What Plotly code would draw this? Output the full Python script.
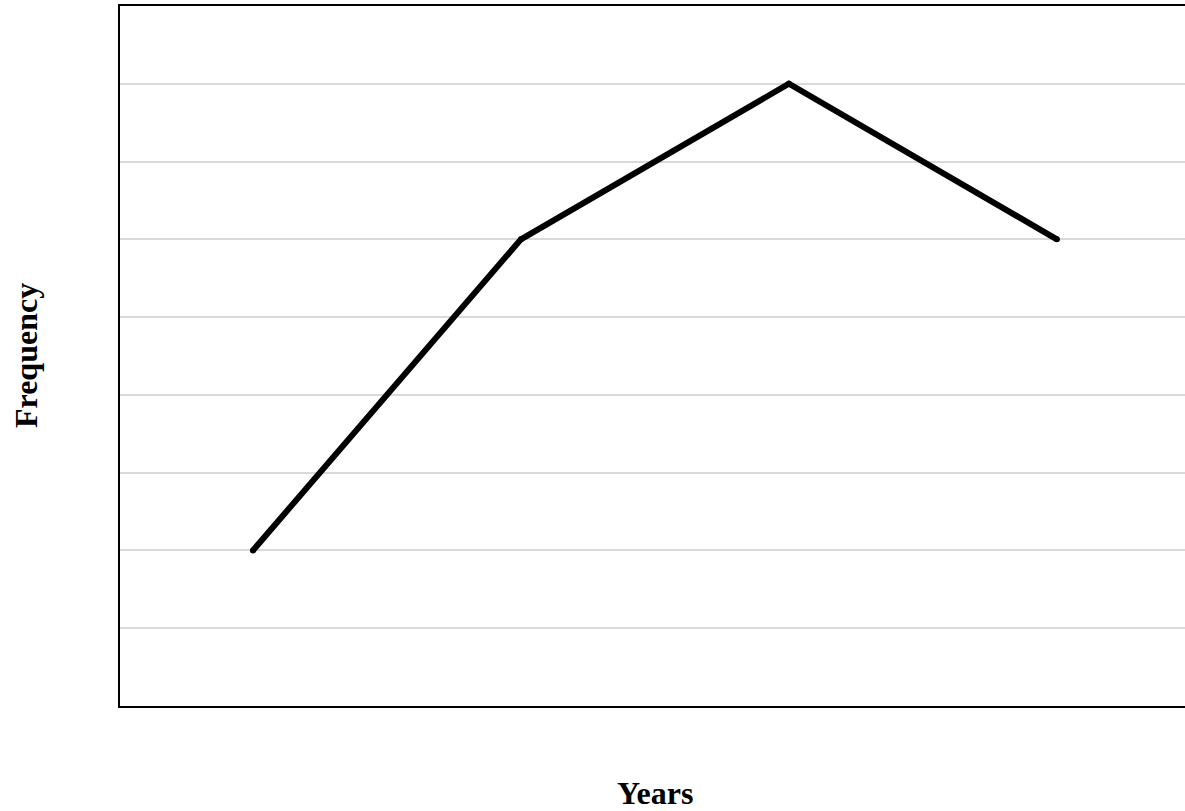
import plotly.graph_objects as go

categories = ["Year 1", "Year 2", "Year 3", "Year 4"]
frequency = [2, 6, 8, 6]

W, H = 1185, 811
ml, mr, mt, mb = 120, 0, 6, 105

fig = go.Figure()
fig.add_trace(go.Scatter(
    x=list(range(len(categories))), y=frequency, mode="lines+markers",
    line=dict(color="black", width=6),
    marker=dict(color="black", size=6),
    hoverinfo="skip", showlegend=False,
))

fig.update_layout(
    width=W, height=H, autosize=False,
    margin=dict(l=ml, r=mr, t=mt, b=mb),
    paper_bgcolor="white", plot_bgcolor="white",
    font=dict(family="Liberation Serif", color="black"),
    xaxis=dict(range=[-0.496, 3.478], showgrid=False, zeroline=False,
               showticklabels=False, ticks="", showline=True, linecolor="black",
               linewidth=2, mirror=True,
               tickvals=list(range(len(categories))), ticktext=categories),
    yaxis=dict(range=[0, 9], dtick=1, showgrid=True, gridcolor="#d9d9d9", gridwidth=1.5,
               zeroline=False, showticklabels=False, ticks="", showline=True,
               linecolor="black", linewidth=2, mirror=False),
    annotations=[
        dict(text="<b>Years</b>", xref="paper", yref="paper",
             x=(655 - ml) / (W - ml - mr), y=(706 - 793) / 700,
             xanchor="center", yanchor="middle", showarrow=False,
             font=dict(family="Liberation Serif", size=32, color="black")),
        dict(text="<b>Frequency</b>", xref="paper", yref="paper",
             x=(26 - ml) / (W - ml - mr), y=0.5, textangle=-90,
             xanchor="center", yanchor="middle", showarrow=False,
             font=dict(family="Liberation Serif", size=32, color="black")),
    ],
)

fig.write_html("out.html", config={"displayModeBar": False},
               post_script="document.body.style.margin='0';document.body.style.overflow='hidden';")
